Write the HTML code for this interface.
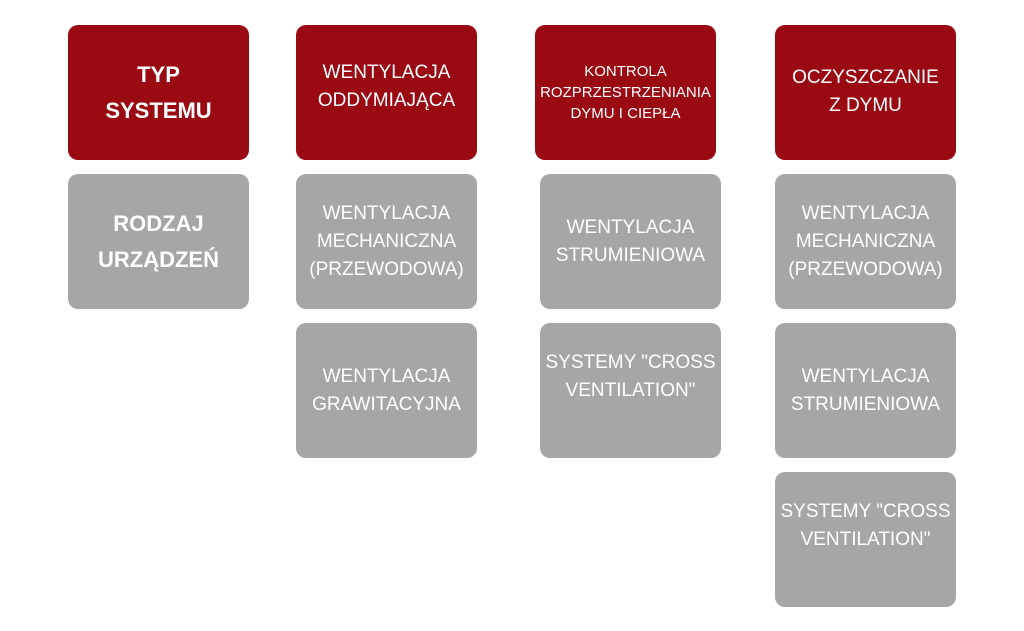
<!DOCTYPE html>
<html><head><meta charset="utf-8"><style>
body{margin:0;width:1024px;height:631px;background:#fff;position:relative;overflow:hidden;font-family:"Liberation Sans",sans-serif}
.b{position:absolute;width:181px;height:135px;border-radius:10px;display:flex;align-items:center;justify-content:center;text-align:center;color:#fff;font-size:19px;line-height:28px}
.r{background:#9a0a12}
.g{background:#a6a6a6}
.big{font-weight:bold;font-size:22px;line-height:36px}
</style></head><body>
<div class="b r big" style="left:68px;top:25px;padding-top:0">TYP<br>SYSTEMU</div>
<div class="b g big" style="left:68px;top:174px">RODZAJ<br>URZĄDZEŃ</div>

<div class="b r" style="left:296px;top:25px;align-items:flex-start;padding-top:0"><div style="margin-top:34px">WENTYLACJA<br>ODDYMIAJĄCA</div></div>
<div class="b g" style="left:296px;top:174px">WENTYLACJA<br>MECHANICZNA<br>(PRZEWODOWA)</div>
<div class="b g" style="left:296px;top:323px">WENTYLACJA<br>GRAWITACYJNA</div>

<div class="b r" style="left:535px;top:25px;font-size:15px;line-height:21px">KONTROLA<br>ROZPRZESTRZENIANIA<br>DYMU I CIEPŁA</div>
<div class="b g" style="left:540px;top:174px;align-items:flex-start"><div style="margin-top:40px">WENTYLACJA<br>STRUMIENIOWA</div></div>
<div class="b g" style="left:540px;top:323px;align-items:flex-start"><div style="margin-top:26px">SYSTEMY "CROSS<br>VENTILATION"</div></div>

<div class="b r" style="left:775px;top:25px;align-items:flex-start"><div style="margin-top:39px">OCZYSZCZANIE<br>Z DYMU</div></div>
<div class="b g" style="left:775px;top:174px">WENTYLACJA<br>MECHANICZNA<br>(PRZEWODOWA)</div>
<div class="b g" style="left:775px;top:323px">WENTYLACJA<br>STRUMIENIOWA</div>
<div class="b g" style="left:775px;top:472px;align-items:flex-start"><div style="margin-top:26px">SYSTEMY "CROSS<br>VENTILATION"</div></div>
</body></html>
